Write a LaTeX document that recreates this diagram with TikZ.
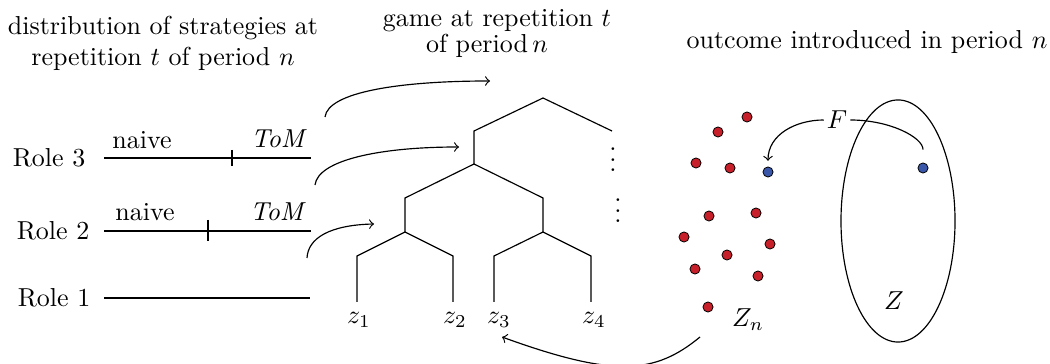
\documentclass[tikz,border=0pt]{standalone}
\usetikzlibrary{shapes.geometric,calc}
\definecolor{dotred}{RGB}{200,32,42}
\definecolor{dotblue}{RGB}{58,86,168}
\begin{document}
\begin{tikzpicture}[x=0.385pt,y=-0.385pt,
  reddot/.style={circle,draw=black,fill=dotred,minimum size=3.9pt,inner sep=0pt,line width=0.3pt},
  bluedot/.style={circle,draw=black,fill=dotblue,minimum size=3.9pt,inner sep=0pt,line width=0.3pt},
  lbl/.style={inner sep=1pt},
  tree/.style={line width=0.45pt},
  arr/.style={->,line width=0.45pt},
  roleline/.style={line width=0.45pt},
  tick/.style={line width=0.45pt}]
\useasboundingbox (0,0) rectangle (1050,364);

% titles
\node[align=center] (t1) at (163,43) {distribution of strategies at\\ repetition $t$ of period $n$};
\node (t2a) at (497,21) {game at repetition $t$};
\node (t2b) at (487,46) {of period\,$n$};
\node (t3) at (867,42) {outcome introduced in period $n$};

% roles
\node[lbl] (r3) at (49,158) {Role 3};
\node[lbl] (r2) at (53,231) {Role 2};
\node[lbl] (r1) at (54,298) {Role 1};
\coordinate (r3a) at (104,158); \coordinate (r3b) at (311,158);
\coordinate (r2a) at (104,231); \coordinate (r2b) at (311,231);
\coordinate (r1a) at (104,298); \coordinate (r1b) at (310,298);
\draw[roleline] (r3a) -- (r3b);
\draw[roleline] (r2a) -- (r2b);
\draw[roleline] (r1a) -- (r1b);
\draw[tick] (232,150) -- (232,166);
\draw[tick] (208,220) -- (208,241);
\node[lbl] (n3) at (142,140) {naive};
\node[lbl] (m3) at (279,139) {\textit{ToM}};
\node[lbl] (n2) at (145,212) {naive};
\node[lbl] (m2) at (278,212) {\textit{ToM}};

% tree
\coordinate (root) at (543,98);
\coordinate (a) at (474,131); \coordinate (ar) at (612,131);
\coordinate (a2) at (474,164);
\coordinate (b) at (405,198); \coordinate (c) at (543,198);
\coordinate (b2) at (405,232); \coordinate (c2) at (543,232);
\coordinate (l1) at (357,256); \coordinate (l2) at (453,256);
\coordinate (l3) at (494,256); \coordinate (l4) at (591,256);
\draw[tree] (a2) -- (a) -- (root) -- (ar);
\draw[tree] (b2) -- (b) -- (a2) -- (c) -- (c2);
\draw[tree] (357,302) -- (l1) -- (b2) -- (l2) -- (453,302);
\draw[tree] (494,302) -- (l3) -- (c2) -- (l4) -- (591,302);
\node[lbl] (z1) at (359,320) {$z_1$};
\node[lbl] (z2) at (455,320) {$z_2$};
\node[lbl] (z3) at (499,320) {$z_3$};
\node[lbl] (z4) at (594,320) {$z_4$};
\node[inner sep=0pt] (v1) at (613,152) {$\vdots$};
\node[inner sep=0pt] (v2) at (618,203) {$\vdots$};

% arrows from roles to tree
\coordinate (s3) at (325,117); \coordinate (e3) at (490,81);
\coordinate (s2) at (315,185); \coordinate (e2) at (459,147);
\coordinate (s1) at (307,258); \coordinate (e1) at (374,224);
\draw[arr] (s3) .. controls (328,92) and (400,81) .. (e3);
\draw[arr] (s2) .. controls (318,160) and (380,147) .. (e2);
\draw[arr] (s1) .. controls (308,238) and (330,225) .. (e1);

% outcomes
\foreach \i/\x/\y in {1/747/117,2/718/132,3/696/163,4/730/168,5/709/216,6/756/213,7/684/237,8/770/244,9/727/255,10/695/269,11/758/276,12/708/307}
  \node[reddot] (d\i) at (\x,\y) {};
\node[bluedot] (bd1) at (768,172) {};
\node[bluedot] (bd2) at (923,168) {};
\node[lbl] (Zn) at (748,320) {$Z_n$};
\node[draw,ellipse,minimum width=43.9pt,minimum height=93.2pt,inner sep=0pt,line width=0.45pt] (ell) at (898,221) {};
\node[lbl] (Z) at (894,301) {$Z$};
\node[lbl] (F) at (837,120) {$F$};
\draw[arr,shorten >=2.2pt] (F.west) .. controls +(-28,0) and +(0,-32) .. (bd1.north);
\draw[line width=0.45pt,shorten >=5pt] (F.east) .. controls +(40,0) and +(0,-25) .. (bd2.north);

\coordinate (zs) at (700,337);
\coordinate (ze) at (502,337);
\draw[arr] (zs) .. controls (655,374) and (615,378) .. (ze);
\end{tikzpicture}
\end{document}
